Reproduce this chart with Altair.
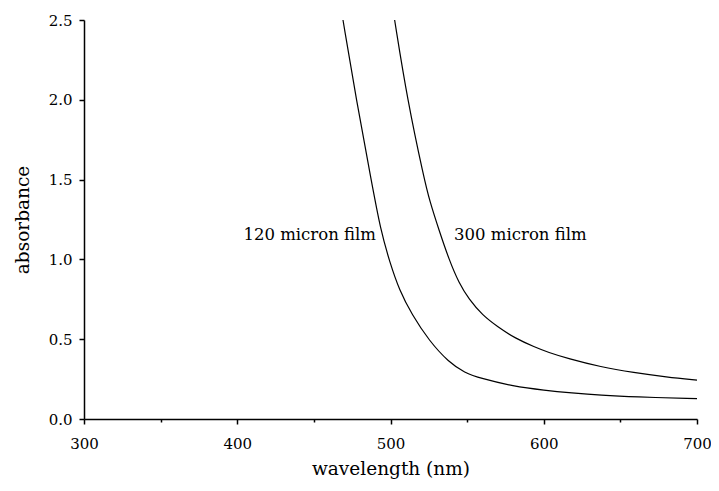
import altair as alt
import pandas as pd

# 120 micron film
wl_120 = [469.0, 477.7, 487.4, 493.5, 499.7, 505.8, 513.9, 525.2, 538.1, 548.4, 558.7,
          580.0, 600.6, 618.1, 637.4, 658.7, 700]
abs_120 = [2.5, 2.0, 1.498, 1.184, 0.977, 0.807, 0.655, 0.49, 0.355, 0.29, 0.255,
           0.205, 0.180, 0.164, 0.149, 0.138, 0.128]

# 300 micron film
wl_300 = [502.7, 511.0, 522.1, 525.4, 531.6, 538.3, 544.7, 551.2, 559.8, 570.3, 581.3,
          594.2, 602.8, 615.7, 637.2, 658.7, 680.2, 700]
abs_300 = [2.5, 2.0, 1.498, 1.372, 1.184, 0.996, 0.851, 0.75, 0.652, 0.575, 0.506,
           0.450, 0.418, 0.379, 0.326, 0.291, 0.263, 0.243]

label_text = ["120 micron film", "300 micron film"]
label_wl = [490.5, 541.5]
label_abs = [1.15, 1.15]
label_align = ["right", "left"]

x_ticks = [300, 350, 400, 450, 500, 550, 600, 650, 700]
y_ticks = [0, 0.25, 0.5, 0.75, 1.0, 1.25, 1.5, 1.75, 2.0, 2.25, 2.5]

df = pd.concat([
    pd.DataFrame({"wavelength": wl_120, "absorbance": abs_120, "film": "120"}),
    pd.DataFrame({"wavelength": wl_300, "absorbance": abs_300, "film": "300"}),
])
labels = pd.DataFrame({"wavelength": label_wl, "absorbance": label_abs,
                       "text": label_text, "align": label_align})

FONT = "DejaVu Serif"

x = alt.X("wavelength:Q", scale=alt.Scale(domain=[300, 700], nice=False, zero=False),
          axis=alt.Axis(title="wavelength (nm)", values=x_ticks,
                        labelExpr="datum.value % 100 === 0 ? datum.label : ''",
                        tickSize={"condition": {"test": "datum.value % 100 !== 0", "value": 3}, "value": 5},
                        labelFlush=False, grid=False, labelPadding=12, titlePadding=8))
y = alt.Y("absorbance:Q", scale=alt.Scale(domain=[0, 2.5], nice=False),
          axis=alt.Axis(title="absorbance", values=y_ticks, format=".1f",
                        labelExpr="(datum.value * 4) % 2 === 0 ? datum.label : ''",
                        tickSize={"condition": {"test": "(datum.value * 4) % 2 !== 0", "value": 3}, "value": 5},
                        labelFlush=False, grid=False, labelPadding=7, titlePadding=16))

lines = alt.Chart(df).mark_line(color="black", strokeWidth=1.2, interpolate="basis").encode(
    x=x, y=y, detail="film:N")

texts_r = alt.Chart(labels[labels["align"] == "right"]).mark_text(
    align="right", baseline="middle", font=FONT, fontSize=16.5, color="black").encode(
    x="wavelength:Q", y="absorbance:Q", text="text:N")
texts_l = alt.Chart(labels[labels["align"] == "left"]).mark_text(
    align="left", baseline="middle", font=FONT, fontSize=16.5, color="black").encode(
    x="wavelength:Q", y="absorbance:Q", text="text:N")

chart = alt.layer(lines, texts_r, texts_l).properties(
    width=613, height=399,
    autosize=alt.AutoSizeParams(type="none"),
    padding={"left": 76, "top": 12, "right": 14, "bottom": 64},
).configure_view(stroke=None).configure_axis(
    domainColor="black", domainWidth=1.5, tickColor="black", tickWidth=1.5,
    labelFont=FONT, labelFontSize=15, labelColor="black",
    titleFont=FONT, titleFontSize=18.5, titleFontWeight="normal", titleColor="black",
)

chart.save("out.html", embed_options={"renderer": "svg", "actions": False})
